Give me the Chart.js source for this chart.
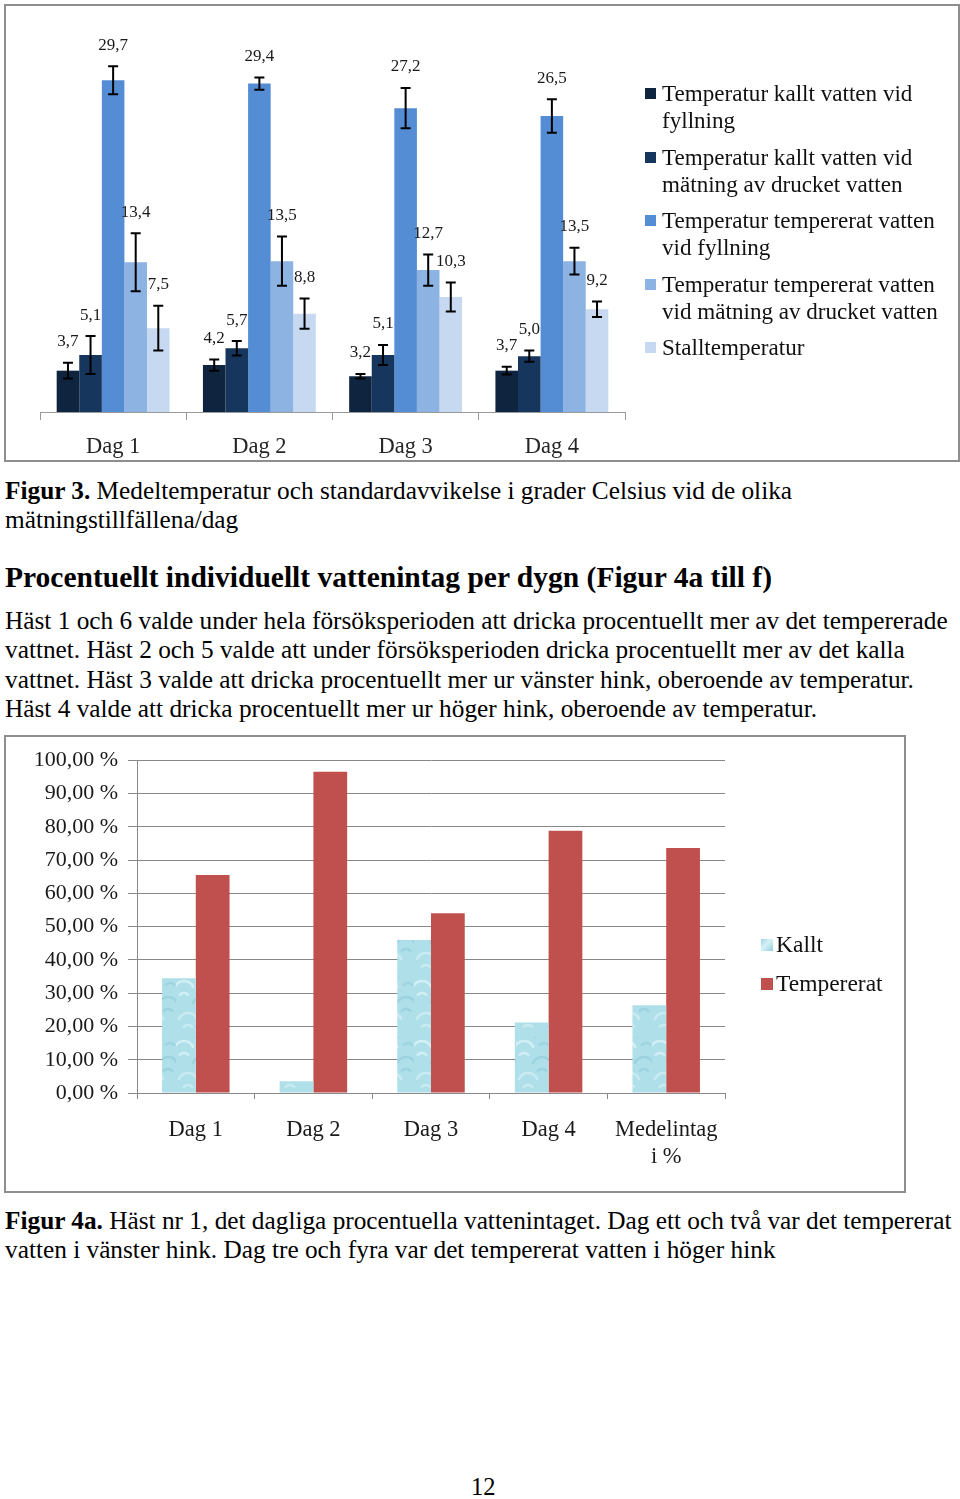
<!DOCTYPE html>
<html lang="sv">
<head>
<meta charset="utf-8">
<script src="https://cdn.jsdelivr.net/npm/chart.js@4.4.1/dist/chart.umd.min.js"></script>
<style>
  body { margin: 0; width: 960px; height: 1499px; position: relative; background: #fff;
         font-family: "Liberation Serif", "Times New Roman", serif; color: #000; overflow: hidden; }
  .box { position: absolute; box-sizing: border-box; border: 2px solid #8e8e8e; background: #fff; }
  .box canvas { position: absolute; left: 0; top: 0; }
  .txt { position: absolute; left: 5px; white-space: nowrap; font-size: 25.3px; line-height: 29.3px; }
  .legend { position: absolute; font-size: 23.1px; line-height: 27px; color: #111; }
  .legend .item { position: relative; padding-left: 17px; }
  .legend .mark { position: absolute; left: 0; width: 11px; height: 11px; }
</style>
</head>
<body>

<div class="box" style="left:4px; top:4px; width:956px; height:458px;">
  <canvas id="tempChart" width="952" height="454"></canvas>
</div>
<div class="legend" id="tempLegend" style="left:645px; top:80px; width:310px;"></div>

<div class="txt" style="top:476px;"><b>Figur 3.</b> Medeltemperatur och standardavvikelse i grader Celsius vid de olika<br>mätningstillfällena/dag</div>
<div class="txt" style="top:560px; font-size:29.5px; line-height:34px; font-weight:bold;">Procentuellt individuellt vattenintag per dygn (Figur 4a till f)</div>
<div class="txt" style="top:606px;">Häst 1 och 6 valde under hela försöksperioden att dricka procentuellt mer av det tempererade<br>vattnet. Häst 2 och 5 valde att under försöksperioden dricka procentuellt mer av det kalla<br>vattnet. Häst 3 valde att dricka procentuellt mer ur vänster hink, oberoende av temperatur.<br>Häst 4 valde att dricka procentuellt mer ur höger hink, oberoende av temperatur.</div>

<div class="box" style="left:4px; top:735px; width:902px; height:458px;">
  <canvas id="intakeChart" width="898" height="454"></canvas>
</div>
<div class="legend" id="intakeLegend" style="left:761px; top:931px; width:140px; font-size:23.5px;"></div>

<div class="txt" style="top:1206px;"><b>Figur 4a.</b> Häst nr 1, det dagliga procentuella vattenintaget. Dag ett och två var det tempererat<br>vatten i vänster hink. Dag tre och fyra var det tempererat vatten i höger hink</div>
<div class="txt" style="top:1472px; left:471px; font-size:24.5px;">12</div>

<script>
/* ── data: Figur 3 (temperatures, °C) ── */
const days = ['Dag 1', 'Dag 2', 'Dag 3', 'Dag 4'];
const seriesNames = [
  'Temperatur kallt vatten vid fyllning',
  'Temperatur kallt vatten vid mätning av drucket vatten',
  'Temperatur tempererat vatten vid fyllning',
  'Temperatur tempererat vatten vid mätning av drucket vatten',
  'Stalltemperatur'
];
const kallFyllning = [3.7, 4.2, 3.2, 3.7];
const kallMatning  = [5.1, 5.7, 5.1, 5.0];
const tempFyllning = [29.7, 29.4, 27.2, 26.5];
const tempMatning  = [13.4, 13.5, 12.7, 13.5];
const stallTemp    = [7.5, 8.8, 10.3, 9.2];
const sdKallFyllning = [0.7, 0.5, 0.2, 0.35];
const sdKallMatning  = [1.7, 0.65, 0.9, 0.5];
const sdTempFyllning = [1.25, 0.55, 1.8, 1.5];
const sdTempMatning  = [2.6, 2.2, 1.4, 1.2];
const sdStallTemp    = [2.0, 1.35, 1.3, 0.7];

/* ── data: Figur 4a (share of intake, %) ── */
const intakeLabels = ['Dag 1', 'Dag 2', 'Dag 3', 'Dag 4', ['Medelintag', 'i %']];
const kallt      = [34.5, 3.5, 46.0, 21.2, 26.4];
const tempererat = [65.5, 96.5, 54.0, 78.8, 73.6];
const pctTickLabels = ['0,00 %', '10,00 %', '20,00 %', '30,00 %', '40,00 %', '50,00 %',
                       '60,00 %', '70,00 %', '80,00 %', '90,00 %', '100,00 %'];

const COL = { navy50: '#0F243E', navy25: '#17365D', blue40: '#548DD4', blue60: '#8DB3E2',
              blue80: '#C6D9F1', red: '#C0504D', grid: '#888888', text: '#1a1a1a' };
const SERIF = '"Liberation Serif", "Times New Roman", serif';

Chart.defaults.font.family = SERIF;
Chart.defaults.color = COL.text;
Chart.defaults.animation = false;

/* Legend in HTML (wraps like the Excel legend) */
function buildLegend(id, names, colors) {
  const box = document.getElementById(id);
  names.forEach((n, i) => {
    const it = document.createElement('div');
    it.className = 'item';
    it.innerHTML = `<span class="mark" style="top:8px;background:${colors[i]}"></span>${n}`;
    box.appendChild(it);
  });
  return box;
}

/* Error bars + value labels */
const errorBars = {
  id: 'errorBars',
  afterDatasetsDraw(chart) {
    const { ctx } = chart;
    const y = chart.scales.y;
    ctx.save();
    ctx.strokeStyle = '#000'; ctx.lineWidth = 2;
    ctx.font = '17px ' + SERIF; ctx.fillStyle = COL.text;
    ctx.textAlign = 'center'; ctx.textBaseline = 'middle';
    chart.data.datasets.forEach((ds, di) => {
      chart.getDatasetMeta(di).data.forEach((bar, i) => {
        const v = ds.data[i], sd = ds.sd[i];
        const yt = y.getPixelForValue(v + sd), yb = y.getPixelForValue(v - sd);
        ctx.beginPath();
        ctx.moveTo(bar.x, yt); ctx.lineTo(bar.x, yb);
        ctx.moveTo(bar.x - 5, yt); ctx.lineTo(bar.x + 5, yt);
        ctx.moveTo(bar.x - 5, yb); ctx.lineTo(bar.x + 5, yb);
        ctx.stroke();
        ctx.fillText(v.toFixed(1).replace('.', ','), bar.x, yt - 21);
      });
    });
    ctx.restore();
  }
};

/* Figur 3 */
function renderTempChart() {
  const colors = [COL.navy50, COL.navy25, COL.blue40, COL.blue60, COL.blue80];
  const values = [kallFyllning, kallMatning, tempFyllning, tempMatning, stallTemp];
  const sds = [sdKallFyllning, sdKallMatning, sdTempFyllning, sdTempMatning, sdStallTemp];
  new Chart(document.getElementById('tempChart'), {
    type: 'bar',
    data: {
      labels: days,
      datasets: values.map((d, i) => ({ label: seriesNames[i], data: d, sd: sds[i],
        backgroundColor: colors[i], borderWidth: 0 }))
    },
    options: {
      responsive: false, devicePixelRatio: 1,
      layout: { padding: { left: 34, right: 333, top: 15, bottom: 0 } },
      categoryPercentage: 0.772, barPercentage: 1,
      plugins: { legend: { display: false }, tooltip: { enabled: false } },
      scales: {
        x: {
          afterFit: s => { s.height = 48; },
          grid: { drawOnChartArea: false, drawTicks: true, tickLength: 8, color: '#9a9a9a' },
          border: { display: true, color: '#9a9a9a', width: 1 },
          ticks: { font: { size: 22.5 }, padding: 14, color: '#262626' }
        },
        y: { display: false, min: 0, max: 35 }
      }
    },
    plugins: [errorBars]
  });
  buildLegend('tempLegend', seriesNames, colors).querySelectorAll('.item')
    .forEach(el => { el.style.marginBottom = '9.5px'; });
}

/* water-like texture used for "Kallt" */
function waterPattern(ctx) {
  const c = document.createElement('canvas');
  c.width = 34; c.height = 60;
  const g = c.getContext('2d');
  g.fillStyle = '#afdfe9'; g.fillRect(0, 0, 34, 60);
  g.lineWidth = 2.5;
  [[8, 14, '#d2eff5'], [26, 30, '#9bd3df'], [12, 46, '#c8ebf2'], [28, 4, '#9ed5e1']].forEach(([x, y, c2]) => {
    g.strokeStyle = c2;
    g.beginPath(); g.arc(x, y, 10, Math.PI * 1.1, Math.PI * 1.9); g.stroke();
    g.beginPath(); g.arc(x, y + 8, 6, Math.PI * 1.2, Math.PI * 1.8); g.stroke();
  });
  return ctx.createPattern(c, 'repeat');
}

/* Figur 4a */
function renderIntakeChart() {
  const canvas = document.getElementById('intakeChart');
  const pattern = waterPattern(canvas.getContext('2d'));
  new Chart(canvas, {
    type: 'bar',
    data: {
      labels: intakeLabels,
      datasets: [
        { label: 'Kallt', data: kallt, backgroundColor: pattern, borderWidth: 0 },
        { label: 'Tempererat', data: tempererat, backgroundColor: COL.red, borderWidth: 0 }
      ]
    },
    options: {
      responsive: false, devicePixelRatio: 1,
      layout: { padding: { left: 0, right: 179, top: 22, bottom: 0 } },
      categoryPercentage: 0.574, barPercentage: 1,
      plugins: { legend: { display: false }, tooltip: { enabled: false } },
      scales: {
        x: {
          afterFit: s => { s.height = 98; },
          grid: { drawOnChartArea: false, drawTicks: true, tickLength: 6, color: COL.grid },
          border: { display: true, color: COL.grid, width: 1 },
          ticks: { font: { size: 22.5, lineHeight: '27px' }, padding: 17.5, color: '#1a1a1a' }
        },
        y: {
          min: 0, max: 100,
          afterFit: s => { s.width = 131; },
          afterBuildTicks: s => { s.ticks = pctTickLabels.map((_, i) => ({ value: i * 10 })); },
          grid: { color: COL.grid, lineWidth: 1, tickLength: 9 },
          border: { display: true, color: COL.grid, width: 1 },
          ticks: { font: { size: 22 }, padding: 10, color: '#1a1a1a',
                   callback: (v, i) => pctTickLabels[i] }
        }
      }
    }
  });
  const leg = buildLegend('intakeLegend', ['Kallt', 'Tempererat'],
    ['linear-gradient(135deg,#9fd6e4 0%,#d8f1f6 45%,#8fcedd 100%)', COL.red]);
  leg.querySelectorAll('.item').forEach(el => { el.style.marginBottom = '12px'; el.style.paddingLeft = '15px'; });
  leg.querySelectorAll('.mark').forEach(m => { m.style.width = '12px'; m.style.height = '12px'; });
}

renderTempChart();
renderIntakeChart();
</script>
</body>
</html>
